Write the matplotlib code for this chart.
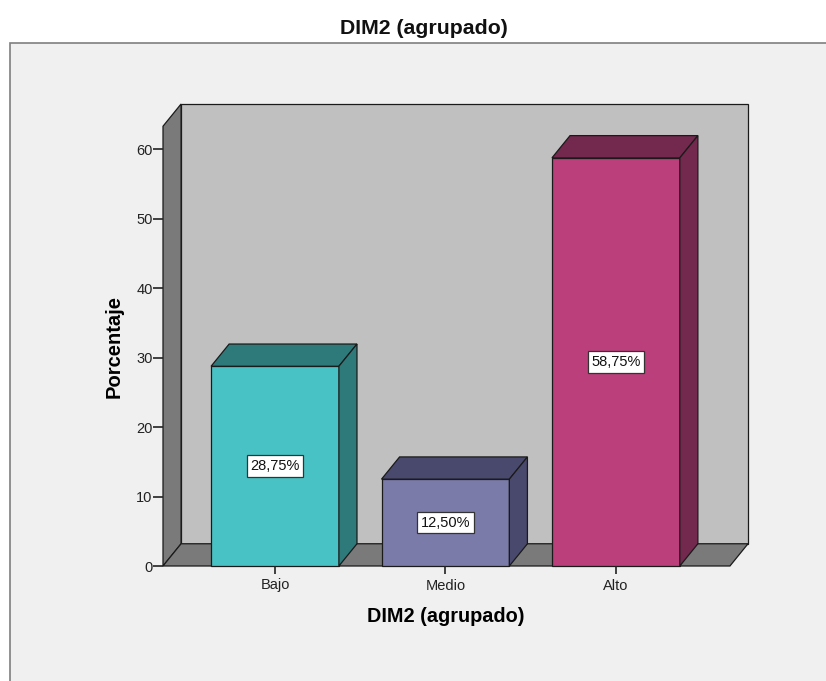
import matplotlib.pyplot as plt
from matplotlib.patches import Polygon, Rectangle

plt.rcParams['font.family'] = ['Liberation Sans', 'DejaVu Sans']

categories = ["Bajo", "Medio", "Alto"]
percentages = [28.75, 12.50, 58.75]
value_labels = ["28,75%", "12,50%", "58,75%"]
y_ticks = [0, 10, 20, 30, 40, 50, 60]

front_colors = ["#48C2C5", "#7B7BAA", "#BA3F7B"]
dark_colors = ["#2E7A7B", "#49496E", "#73284D"]

# 3D look: depth offset in data units, box limits
dx, dy = 0.106, 3.2
x_left, x_right = -0.657, 2.669
wall_top = 63.3
bar_w = 0.75

fig = plt.figure(figsize=(8.26, 6.81), dpi=100)
fig.patch.set_facecolor("white")

# outer frame of the SPSS chart
fig.patches.append(Rectangle((10 / 826, -0.1), 1.2, (681 - 43) / 681 + 0.1,
                             transform=fig.transFigure, facecolor="#F0F0F0",
                             edgecolor="#7F7F7F", lw=1.2, zorder=-5))

ax = fig.add_axes([163 / 826, 115 / 681, 585 / 826, 462 / 681])
ax.set_facecolor("none")
ax.set_xlim(x_left, x_right + dx)
ax.set_ylim(0, wall_top + dy)
for s in ax.spines.values():
    s.set_visible(False)

edge = dict(edgecolor="#1A1A1A", lw=0.9, joinstyle="miter", clip_on=False)
# back wall
ax.add_patch(Polygon([(x_left + dx, dy), (x_right + dx, dy),
                      (x_right + dx, wall_top + dy), (x_left + dx, wall_top + dy)],
                     facecolor="#C0C0C0", **edge))
# left wall
ax.add_patch(Polygon([(x_left, 0), (x_left + dx, dy),
                      (x_left + dx, wall_top + dy), (x_left, wall_top)],
                     facecolor="#7A7A7A", **edge))
# floor
ax.add_patch(Polygon([(x_left, 0), (x_right, 0), (x_right + dx, dy), (x_left + dx, dy)],
                     facecolor="#7A7A7A", **edge))

for i, (v, fc, dc, lab) in enumerate(zip(percentages, front_colors, dark_colors, value_labels)):
    x0, x1 = i - bar_w / 2, i + bar_w / 2
    ax.add_patch(Polygon([(x0, 0), (x1, 0), (x1, v), (x0, v)], facecolor=fc, **edge))
    ax.add_patch(Polygon([(x0, v), (x0 + dx, v + dy), (x1 + dx, v + dy), (x1, v)],
                         facecolor=dc, **edge))
    ax.add_patch(Polygon([(x1, 0), (x1 + dx, dy), (x1 + dx, v + dy), (x1, v)],
                         facecolor=dc, **edge))
    ax.text(i, v / 2, lab, ha="center", va="center", fontsize=10.5, color="#111111",
            bbox=dict(boxstyle="square,pad=0.25", facecolor="white", edgecolor="#333333", lw=0.9))

ax.set_yticks(y_ticks)
ax.set_yticklabels([str(t) for t in y_ticks])
ax.set_xticks(range(len(categories)))
ax.set_xticklabels(categories)
ax.tick_params(axis="y", length=7, width=1.2, color="#222222", labelsize=10.5,
               labelcolor="#222222", pad=0.5)
ax.tick_params(axis="x", length=6, width=1.2, color="#222222", labelsize=10.5,
               labelcolor="#222222", pad=3)

ax.set_ylabel("Porcentaje", fontsize=14.5, fontweight="bold")
ax.yaxis.set_label_coords(-(163 - 124) / 585, (566 - 346) / 462)
ax.set_xlabel("DIM2 (agrupado)", fontsize=14.3, fontweight="bold")
ax.xaxis.set_label_coords((446 - 163) / 585, -(607 - 566) / 462)

fig.text(424 / 826, 1 - 28 / 681, "DIM2 (agrupado)", ha="center", va="center",
         fontsize=15.3, fontweight="bold", color="#111111")

fig.savefig("out.png", dpi=100)
